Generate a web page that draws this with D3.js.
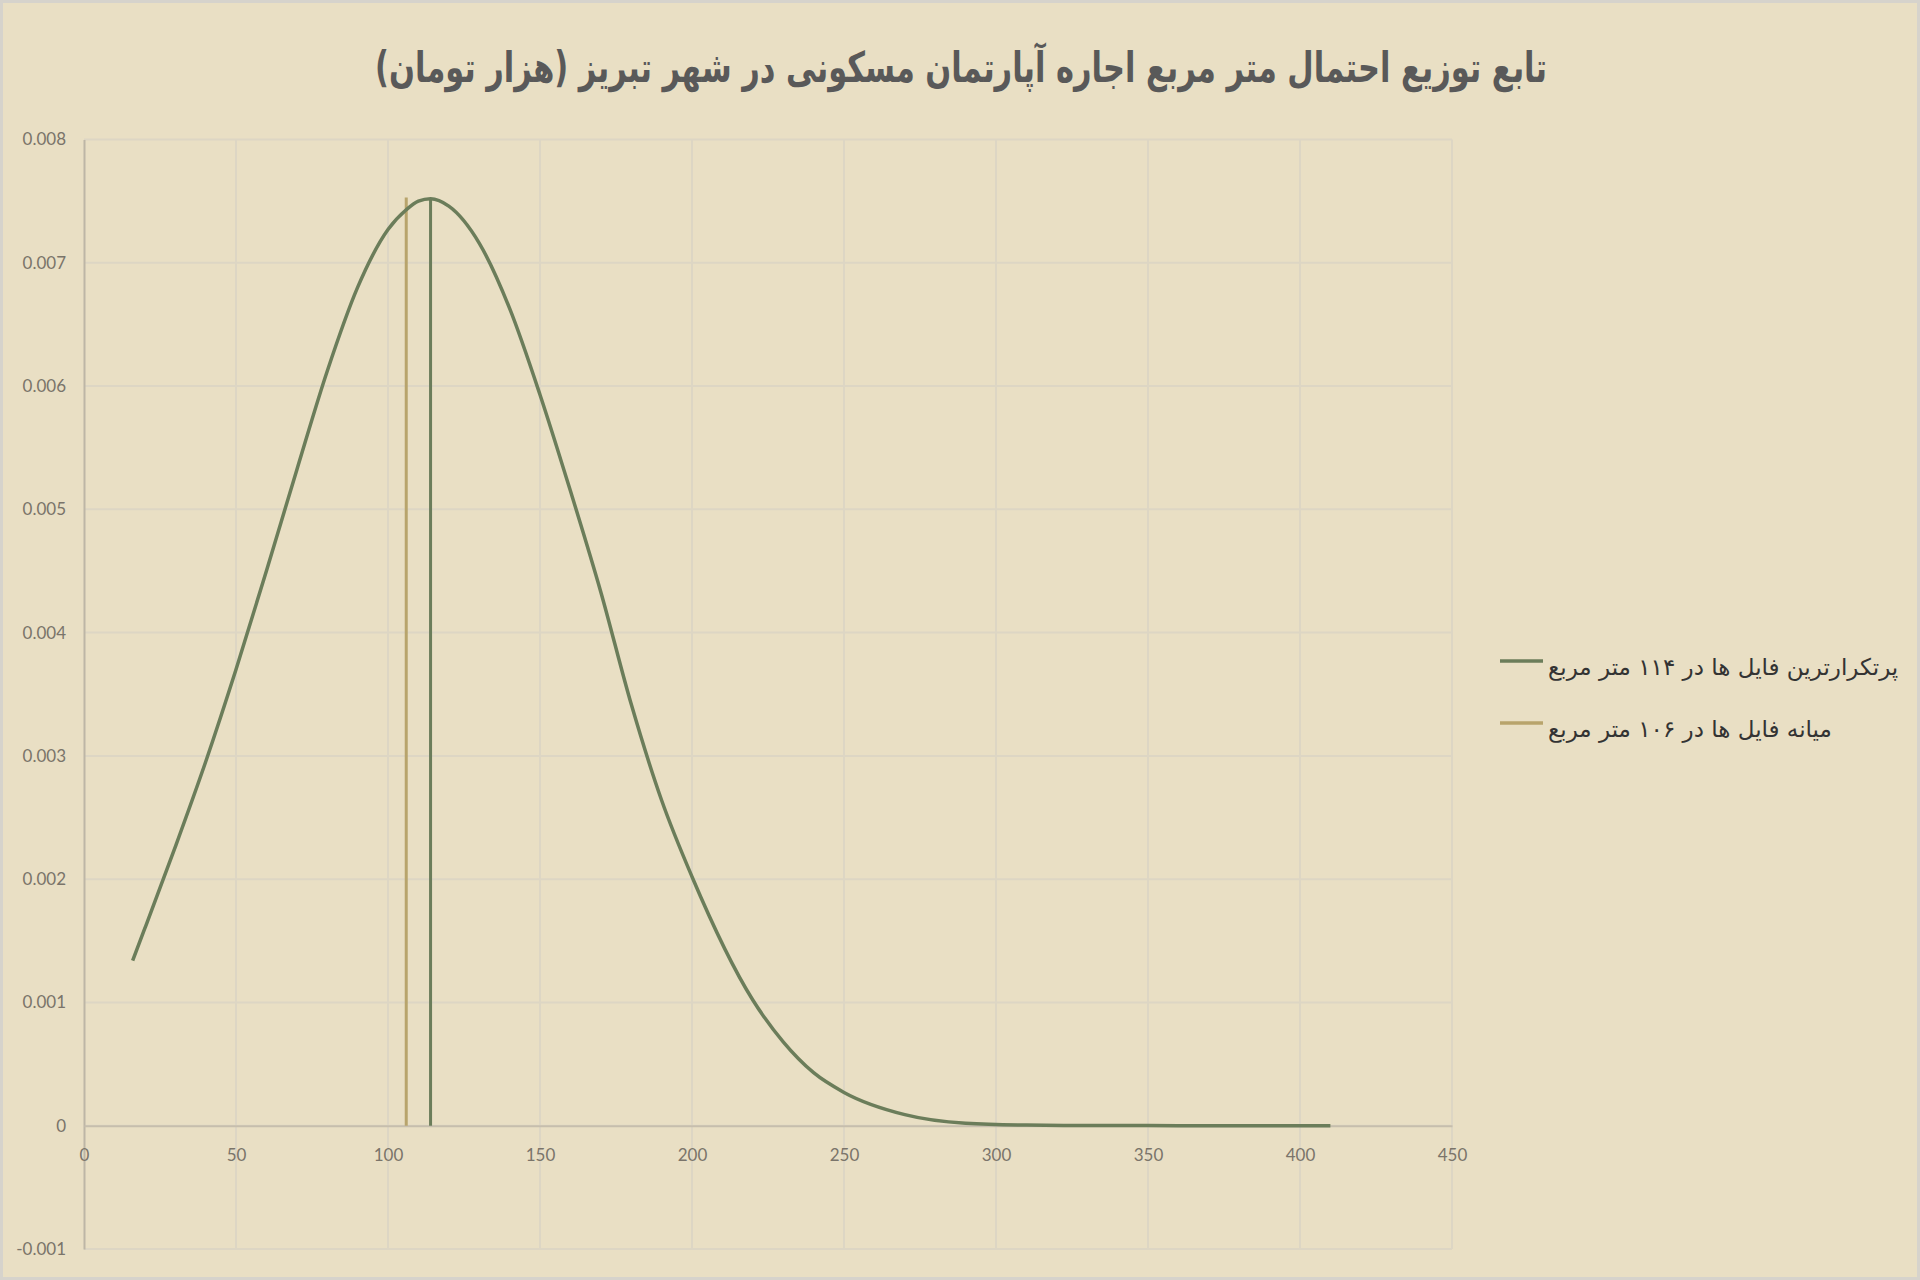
<!DOCTYPE html>
<html>
<head>
<meta charset="utf-8">
<script src="https://cdn.jsdelivr.net/npm/d3@7"></script>
<style>
  html, body { margin: 0; padding: 0; background: #E9DFC4; }
  #chart { width: 1920px; height: 1280px; }
</style>
</head>
<body>
<div id="chart"></div>
<script>
// تابع توزیع احتمال - داده‌ها خوانده شده از نمودار

const chartTitle = 'تابع توزیع احتمال متر مربع اجاره آپارتمان مسکونی در شهر تبریز (هزار تومان)';

// curve points (متر مربع, density)
const sizes = [16, 20, 30, 40, 50, 60, 70, 80, 90, 100, 106, 110, 114, 120, 130, 140, 150,
  160, 170, 180, 190, 200, 220, 230, 240, 250, 270, 290, 310, 330, 350, 370, 390, 410];
const density = [0.00134, 0.00160, 0.00226, 0.00295, 0.00370, 0.00450, 0.00532, 0.00612,
  0.00680, 0.00727, 0.00743, 0.00750, 0.00752, 0.00746, 0.00716, 0.00663, 0.00593,
  0.00515, 0.00433, 0.00342, 0.00264, 0.00202, 0.00102, 0.00068, 0.00043, 0.00027,
  0.00009, 0.00002, 0.000005, 0.000002, 0.000001, 0, 0, 0];

// vertical markers
const modeLine = [[114, 0], [114, 0.00752]];
const medianLine = [[106, 0], [106, 0.00753]];

const legendLabels = ['پرتکرارترین فایل ها در ۱۱۴ متر مربع', 'میانه فایل ها در ۱۰۶ متر مربع'];

const xTicks = [0, 50, 100, 150, 200, 250, 300, 350, 400, 450];
const yTicks = [-0.001, 0, 0.001, 0.002, 0.003, 0.004, 0.005, 0.006, 0.007, 0.008];

function drawChart() {
  const width = 1920, height = 1280;
  const green = '#6B7D5A', gold = '#B8A46C';

  const svg = d3.select('#chart').append('svg')
    .attr('width', width)
    .attr('height', height);

  svg.append('rect')
    .attr('x', 1.5).attr('y', 1.5)
    .attr('width', width - 3).attr('height', height - 3)
    .attr('fill', '#E9DFC4')
    .attr('stroke', '#D6D3CC')
    .attr('stroke-width', 3);

  const x = d3.scaleLinear().domain([0, 450]).range([84, 1452]);
  const y = d3.scaleLinear().domain([-0.001, 0.008]).range([1249, 139.5]);

  // gridlines
  svg.append('g')
    .selectAll('line')
    .data(yTicks)
    .enter().append('line')
    .attr('x1', x(0)).attr('x2', x(450))
    .attr('y1', d => y(d)).attr('y2', d => y(d))
    .attr('stroke', '#DDD6C4')
    .attr('stroke-width', 2);

  svg.append('g')
    .selectAll('line')
    .data(xTicks.slice(1))
    .enter().append('line')
    .attr('x1', d => x(d)).attr('x2', d => x(d))
    .attr('y1', y(0.008)).attr('y2', y(-0.001))
    .attr('stroke', '#DDD6C4')
    .attr('stroke-width', 2);

  // axes
  const yAxis = d3.axisLeft(y).tickValues(yTicks).tickSize(0).tickPadding(18)
    .tickFormat(d => d === 0 ? '0' : d3.format('.3f')(d).replace('−', '-'));
  const gy = svg.append('g')
    .attr('transform', `translate(${x(0)},0)`)
    .call(yAxis);
  gy.select('.domain').attr('stroke', '#BDB6A6').attr('stroke-width', 2);

  const xAxis = d3.axisBottom(x).tickValues(xTicks).tickSize(0).tickPadding(23)
    .tickFormat(d3.format('d'));
  const gx = svg.append('g')
    .attr('transform', `translate(0,${y(0)})`)
    .call(xAxis);
  gx.select('.domain').attr('stroke', '#C6BEAD').attr('stroke-width', 2);

  svg.selectAll('.tick text')
    .attr('fill', '#7A746A')
    .attr('font-family', 'Lato, "Open Sans", sans-serif')
    .attr('font-size', '17px');

  // vertical markers
  const line = d3.line().x(d => x(d[0])).y(d => y(d[1]));
  svg.append('path').datum(medianLine)
    .attr('d', line).attr('fill', 'none')
    .attr('stroke', gold).attr('stroke-width', 3);
  svg.append('path').datum(modeLine)
    .attr('d', line).attr('fill', 'none')
    .attr('stroke', green).attr('stroke-width', 3);

  // density curve
  const curve = d3.line()
    .x((d, i) => x(sizes[i]))
    .y(d => y(d))
    .curve(d3.curveMonotoneX);
  svg.append('path').datum(density)
    .attr('d', curve).attr('fill', 'none')
    .attr('stroke', green).attr('stroke-width', 3.5)
    .attr('stroke-linejoin', 'round');

  // title (condensed bold)
  svg.append('text')
    .attr('transform', 'translate(961,82) scale(0.725,1)')
    .attr('text-anchor', 'middle')
    .attr('direction', 'rtl')
    .attr('font-family', '"DejaVu Sans", sans-serif')
    .attr('font-weight', 'bold')
    .attr('font-size', '42px')
    .attr('fill', '#595959')
    .text(chartTitle);

  // legend
  const legendColors = [green, gold];
  const lg = svg.append('g');
  legendLabels.forEach((label, i) => {
    const ly = 661 + i * 62;
    lg.append('line')
      .attr('x1', 1500).attr('x2', 1543)
      .attr('y1', ly).attr('y2', ly)
      .attr('stroke', legendColors[i]).attr('stroke-width', 3.5);
    lg.append('text')
      .attr('x', 1548).attr('y', ly + 14)
      .attr('direction', 'rtl')
      .attr('text-anchor', 'end')
      .attr('font-family', '"DejaVu Sans", sans-serif')
      .attr('font-size', '23px')
      .attr('fill', '#333333')
      .text(label);
  });
}

window.addEventListener('DOMContentLoaded', drawChart);
</script>
</body>
</html>
